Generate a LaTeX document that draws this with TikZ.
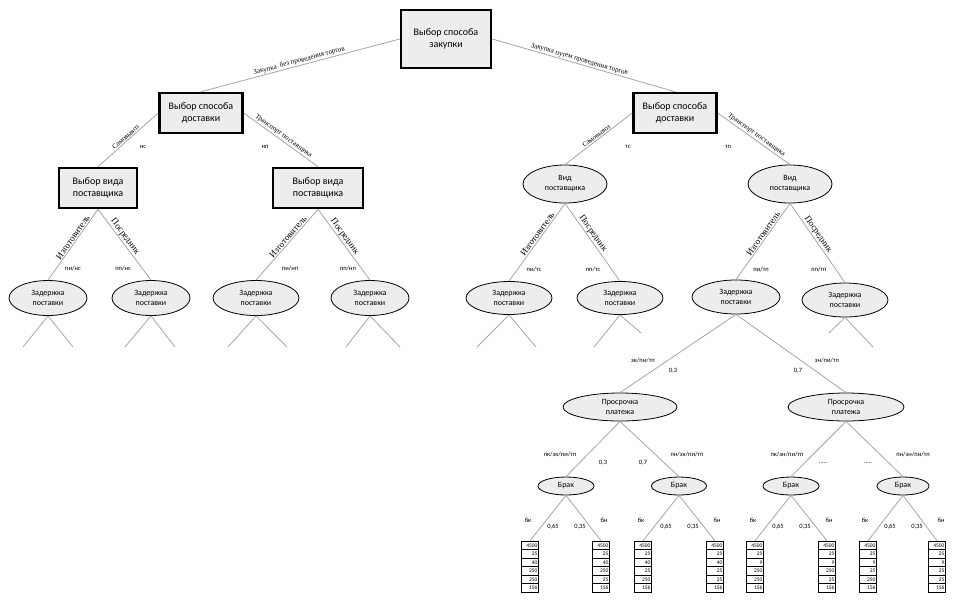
\documentclass[tikz,border=0pt]{standalone}
\usepackage{fontspec}
\setmainfont{Liberation Serif}
\setsansfont{Carlito}
\usetikzlibrary{shapes.geometric}

\tikzset{
  conn/.style={draw=gray!70, line width=0.8pt},
  bigbox/.style={draw, line width=2.6pt, fill=gray!14, font=\sffamily\fontsize{10}{12.5}\selectfont, align=center, inner sep=0pt},
  oval/.style={ellipse, draw, line width=0.8pt, fill=gray!14, font=\sffamily\fontsize{8}{10}\selectfont, align=center, inner sep=0pt},
  slab/.style={sloped, above, font=\fontsize{7}{8}\selectfont, inner sep=1pt},
  blab/.style={sloped, above, pos=0.43, font=\fontsize{9}{9}\selectfont, inner sep=1pt},
  code/.style={font=\sffamily\fontsize{6.5}{7}\selectfont, inner sep=0pt},
  cell/.style={draw, line width=0.6pt, fill=white, minimum width=17pt, minimum height=8.5pt, inner sep=0.4pt, font=\sffamily\fontsize{5.5}{5.5}\selectfont, align=right, text width=15pt}
}

\newcommand\valtable[8]{%
  \node[cell] (#1-1) at (#2,545.25) {#3};
  \node[cell] (#1-2) at (#2,553.75) {#4};
  \node[cell] (#1-3) at (#2,562.25) {#5};
  \node[cell] (#1-4) at (#2,570.75) {#6};
  \node[cell] (#1-5) at (#2,579.25) {#7};
  \node[cell] (#1-6) at (#2,587.75) {#8};
}

\begin{document}
\begin{tikzpicture}[x=1pt,y=-1pt]
\useasboundingbox[fill=white] (0,0) rectangle (960,606);

% boxes
\node[bigbox, minimum width=90pt, minimum height=58pt] (top) at (446,39) {Выбор способа\\закупки};
\node[bigbox, minimum width=83pt, minimum height=40pt] (d1) at (201,113) {Выбор способа\\доставки};
\node[bigbox, minimum width=83pt, minimum height=40pt] (d2) at (675,113) {Выбор способа\\доставки};
\node[bigbox, minimum width=78pt, minimum height=40pt] (v1) at (98,188) {Выбор вида\\поставщика};
\node[bigbox, minimum width=90pt, minimum height=40pt] (v2) at (318,188) {Выбор вида\\поставщика};

% ovals
\node[oval, minimum width=84pt, minimum height=38pt] (e1) at (565,184) {Вид\\поставщика};
\node[oval, minimum width=84pt, minimum height=38pt] (e2) at (790,184) {Вид\\поставщика};

\node[oval, minimum width=78pt, minimum height=35pt] (z1) at (48,298) {Задержка\\поставки};
\node[oval, minimum width=78pt, minimum height=35pt] (z2) at (151,298) {Задержка\\поставки};
\node[oval, minimum width=86pt, minimum height=35pt] (z3) at (256,298) {Задержка\\поставки};
\node[oval, minimum width=78pt, minimum height=35pt] (z4) at (370,298) {Задержка\\поставки};
\node[oval, minimum width=86pt, minimum height=33pt] (z5) at (509,298) {Задержка\\поставки};
\node[oval, minimum width=86pt, minimum height=33pt] (z6) at (620,298) {Задержка\\поставки};
\node[oval, minimum width=88pt, minimum height=34pt] (z7) at (736,297) {Задержка\\поставки};
\node[oval, minimum width=86pt, minimum height=34pt] (z8) at (845,300) {Задержка\\поставки};

\node[oval, minimum width=114pt, minimum height=28pt] (p1) at (620,407) {Просрочка\\платежа};
\node[oval, minimum width=116pt, minimum height=28pt] (p2) at (846,407) {Просрочка\\платежа};

\node[oval, minimum width=56pt, minimum height=18pt] (b1) at (566,486) {Брак};
\node[oval, minimum width=55pt, minimum height=18pt] (b2) at (679,486) {Брак};
\node[oval, minimum width=56pt, minimum height=18pt] (b3) at (791,486) {Брак};
\node[oval, minimum width=52pt, minimum height=18pt] (b4) at (903,486) {Брак};

% tables
\valtable{t1}{530}{4500}{25}{40}{250}{250}{156}
\valtable{t2}{601}{4500}{25}{40}{250}{25}{156}
\valtable{t3}{643}{4500}{25}{40}{25}{250}{156}
\valtable{t4}{715}{4500}{25}{40}{25}{25}{156}
\valtable{t5}{755}{4500}{25}{9}{250}{250}{156}
\valtable{t6}{827}{4500}{25}{9}{250}{25}{156}
\valtable{t7}{868}{4500}{25}{9}{25}{250}{156}
\valtable{t8}{937}{4500}{25}{9}{25}{25}{156}

% connectors with rotated labels
\draw[conn] (top.west) -- node[slab, pos=0.5]{Закупка \ без проведения торгов} (d1.north);
\draw[conn] (top.east) -- node[slab, pos=0.47]{Закупка путем проведения торгов} (d2.north);

\draw[conn] (d1.west) -- node[slab]{Самовывоз} (v1.north);
\draw[conn] (d1.east) -- node[slab]{Транспорт поставщика} (v2.north);
\draw[conn] (d2.west) -- node[slab]{Самовывоз} (e1.north);
\draw[conn] (d2.east) -- node[slab]{Транспорт поставщика} (e2.north);

\draw[conn] (v1.south) -- node[blab]{Изготовитель} (z1.north);
\draw[conn] (v1.south) -- node[blab]{Посредник} (z2.north);
\draw[conn] (v2.south) -- node[blab]{Изготовитель} (z3.north);
\draw[conn] (v2.south) -- node[blab]{Посредник} (z4.north);
\draw[conn] (e1.south) -- node[blab]{Изготовитель} (z5.north);
\draw[conn] (e1.south) -- node[blab]{Посредник} (z6.north);
\draw[conn] (e2.south) -- node[blab]{Изготовитель} (z7.north);
\draw[conn] (e2.south) -- node[blab]{Посредник} (z8.north);

\draw[conn] (z7.south) -- (p1.north);
\draw[conn] (z7.south) -- (p2.north);
\draw[conn] (p1.south) -- (b1.north);
\draw[conn] (p1.south) -- (b2.north);
\draw[conn] (p2.south) -- (b3.north);
\draw[conn] (p2.south) -- (b4.north);

\foreach \b/\l/\r in {b1/t1/t2, b2/t3/t4, b3/t5/t6, b4/t7/t8}{
  \draw[conn] (\b.south) -- (\l-1.north);
  \draw[conn] (\b.south) -- (\r-1.north);
}

% stubs
\coordinate (s1a) at (23,347); \coordinate (s1b) at (73,347);
\coordinate (s2a) at (125,347); \coordinate (s2b) at (175,347);
\coordinate (s3a) at (228,347); \coordinate (s3b) at (287,347);
\coordinate (s4a) at (346,347); \coordinate (s4b) at (400,347);
\coordinate (s5a) at (477,347); \coordinate (s5b) at (536,347);
\coordinate (s6a) at (594,347); \coordinate (s6b) at (641,333);
\coordinate (s8a) at (829,333); \coordinate (s8b) at (873,347);
\foreach \z/\n in {z1/1, z2/2, z3/3, z4/4, z5/5, z6/6, z8/8}{
  \draw[conn] (\z.south) -- (s\n a);
  \draw[conn] (\z.south) -- (s\n b);
}

% code labels
\node[code] (c1) at (143,147) {нс};
\node[code] (c2) at (265,147) {нп};
\node[code] (c3) at (628,147) {тс};
\node[code] (c4) at (728,147) {тп};

\node[code] (c5) at (73,268) {пи/нс};
\node[code] (c6) at (123,268) {пп/нс};
\node[code] (c7) at (290,268) {пи/нп};
\node[code] (c8) at (348,268) {пп/нп};
\node[code] (c9) at (534,269) {пи/тс};
\node[code] (c10) at (593,269) {пп/тс};
\node[code] (c11) at (761,269) {пи/тп};
\node[code] (c12) at (819,269) {пп/тп};

\node[code] (c13) at (643,360) {зк/пи/тп};
\node[code] (c14) at (673,371) {0,3};
\node[code] (c15) at (798,371) {0,7};
\node[code] (c16) at (827,360) {зн/пи/тп};

\node[code] (c17) at (560,454) {пк/зк/пи/тп};
\node[code] (c18) at (603,463) {0,3};
\node[code] (c19) at (643,463) {0,7};
\node[code] (c20) at (687,454) {пн/зк/пи/тп};
\node[code] (c21) at (787,454) {пк/зн/пи/тп};
\node[code] (c22) at (823,463) {.....};
\node[code] (c23) at (868,463) {.....};
\node[code] (c24) at (913,454) {пн/зн/пи/тп};

\foreach \x/\k in {0/a, 113/b, 225/c, 337/d}{
  \node[code] (bk\k) at (528+\x,520) {бк};
  \node[code] (pa\k) at (553+\x,527) {0,65};
  \node[code] (pb\k) at (580+\x,527) {0,35};
  \node[code] (bn\k) at (604+\x,520) {бн};
}
\end{tikzpicture}
\end{document}
